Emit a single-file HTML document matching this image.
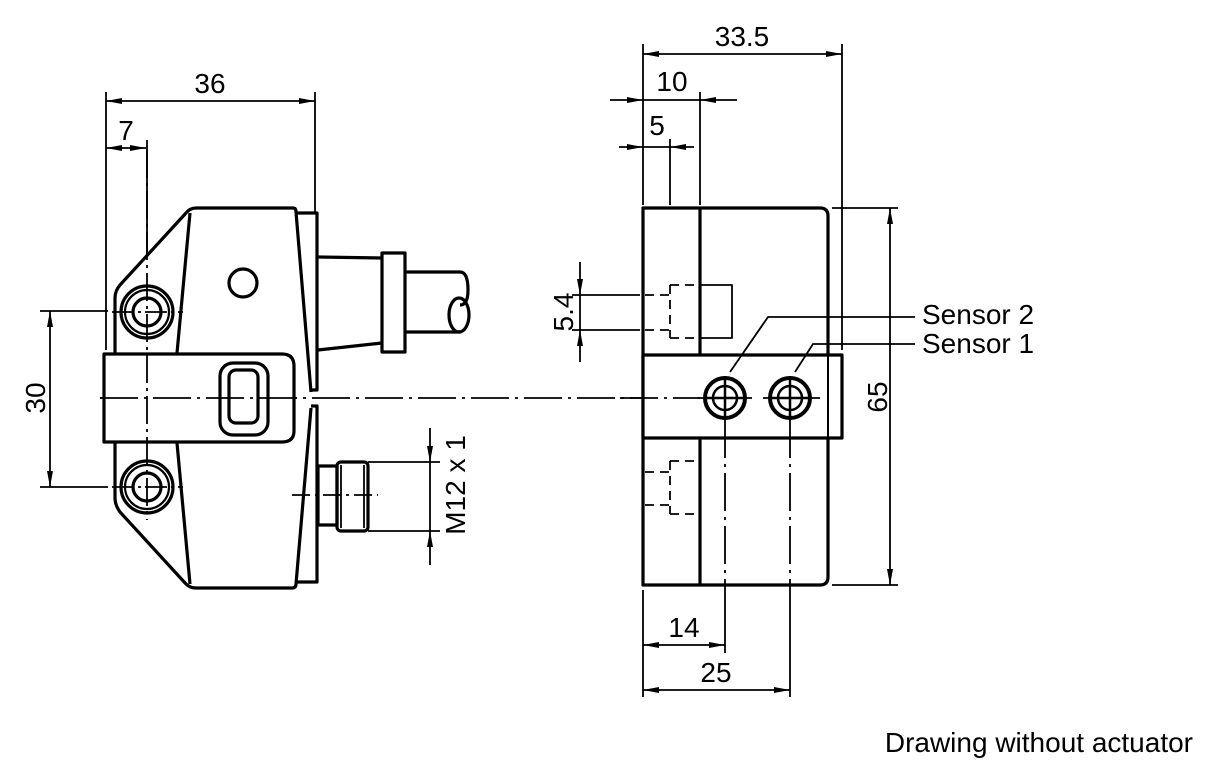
<!DOCTYPE html>
<html><head><meta charset="utf-8"><style>
html,body{margin:0;padding:0;background:#fff;}
svg{display:block;}
text{font-family:"Liberation Sans",Arial,sans-serif;font-size:28px;fill:#000;}
</style></head><body>
<svg width="1228" height="780" viewBox="0 0 1228 780" xmlns="http://www.w3.org/2000/svg">
<defs>
<marker id="a" viewBox="0 0 16 6" refX="16" refY="3" markerWidth="16" markerHeight="6" markerUnits="userSpaceOnUse" orient="auto-start-reverse"><path d="M0,0 L16,3 L0,6 z" fill="#000"/></marker>
</defs>
<g fill="none" stroke="#000">
<!-- ===== LEFT VIEW ===== -->
<g stroke-width="1.8">
<line x1="106" y1="92" x2="106" y2="350"/>
<line x1="315" y1="92" x2="315" y2="212"/>
<line x1="106" y1="101" x2="315" y2="101" marker-start="url(#a)" marker-end="url(#a)"/>
<line x1="106" y1="148" x2="146" y2="148" marker-start="url(#a)" marker-end="url(#a)"/>
<line x1="147" y1="140" x2="147" y2="255"/>
<line x1="40" y1="311" x2="108" y2="311"/>
<line x1="40" y1="487" x2="108" y2="487"/>
<line x1="50" y1="311" x2="50" y2="487" marker-start="url(#a)" marker-end="url(#a)"/>
<line x1="100" y1="398" x2="700" y2="398" stroke-dasharray="38,6,3,6"/>
<line x1="368" y1="462" x2="440" y2="462"/>
<line x1="368" y1="531" x2="440" y2="531"/>
<line x1="430" y1="428" x2="430" y2="462" marker-end="url(#a)"/>
<line x1="430" y1="565" x2="430" y2="531" marker-end="url(#a)"/>
<line x1="430" y1="462" x2="430" y2="531"/>
<line x1="292" y1="495" x2="378" y2="495" stroke-dasharray="18,5,3,5"/>
<line x1="112" y1="312" x2="183" y2="312" stroke-dasharray="22,4,3,4"/>
<line x1="112" y1="487" x2="183" y2="487" stroke-dasharray="22,4,3,4"/>
</g>
<g stroke-width="3.2" stroke-linejoin="round">
<path d="M196,208 L293,208 Q296,208 296,212 L311,392"/>
<path d="M196,208 Q190,208 186,213 L120,285 Q115,291 115,298 L115,498 Q115,505 120,512 L186,584 Q190,588 196,588 L292,588 Q296,588 296,584 L311,408"/>
<line x1="190" y1="213" x2="177" y2="353"/>
<line x1="177" y1="443" x2="190" y2="584"/>
<path d="M296,213 L317,213 L317,390 L311,390"/>
<path d="M311,406 L317,406 L317,582 L296,582"/>
<path d="M104,354 L282,354 Q294,354 294,366 L294,431 Q294,442 282,442 L104,442 Z" fill="#fff"/>
<rect x="220" y="363" width="48" height="72" rx="13"/>
<rect x="229" y="370" width="29" height="53" rx="7"/>
<circle cx="147" cy="312" r="26"/>
<circle cx="147" cy="312" r="22" stroke-width="2.2"/>
<circle cx="147" cy="312" r="14"/>
<circle cx="147" cy="487" r="26"/>
<circle cx="147" cy="487" r="22" stroke-width="2.2"/>
<circle cx="147" cy="487" r="14"/>
<circle cx="243" cy="283" r="14"/>
<path d="M318,257 L382,258"/>
<path d="M318,350 L382,343"/>
<rect x="382" y="253" width="23" height="99"/>
<path d="M405,272 L460,272 Q468,272 468,290 Q468,305 460,305"/>
<path d="M405,332 L460,332"/>
<ellipse cx="459" cy="315" rx="10" ry="17"/>
<rect x="318" y="466" width="19" height="59"/>
<rect x="337" y="462" width="31" height="69" rx="4"/>
</g>
<g stroke-width="1.8">
<line x1="341" y1="465" x2="341" y2="528"/>
<line x1="364" y1="465" x2="364" y2="528"/>
<line x1="147" y1="150" x2="147" y2="520" stroke-dasharray="28,5,3,5"/>
<line x1="100" y1="398" x2="300" y2="398" stroke-dasharray="38,6,3,6"/>
</g>

<!-- ===== RIGHT VIEW ===== -->
<g stroke-width="1.8">
<line x1="643" y1="44" x2="643" y2="205"/>
<line x1="842" y1="44" x2="842" y2="350"/>
<line x1="643" y1="54" x2="842" y2="54" marker-start="url(#a)" marker-end="url(#a)"/>
<line x1="700" y1="92" x2="700" y2="205"/>
<line x1="610" y1="100" x2="643" y2="100" marker-end="url(#a)"/>
<line x1="643" y1="100" x2="700" y2="100"/>
<line x1="737" y1="100" x2="700" y2="100" marker-end="url(#a)"/>
<line x1="670" y1="139" x2="670" y2="205"/>
<line x1="619" y1="147" x2="643" y2="147" marker-end="url(#a)"/>
<line x1="643" y1="147" x2="670" y2="147"/>
<line x1="694" y1="147" x2="670" y2="147" marker-end="url(#a)"/>
<line x1="572" y1="295" x2="640" y2="295"/>
<line x1="572" y1="330" x2="640" y2="330"/>
<line x1="580" y1="262" x2="580" y2="295" marker-end="url(#a)"/>
<line x1="580" y1="362" x2="580" y2="330" marker-end="url(#a)"/>
<line x1="580" y1="295" x2="580" y2="330"/>
<line x1="832" y1="208" x2="898" y2="208"/>
<line x1="832" y1="585" x2="898" y2="585"/>
<line x1="890" y1="208" x2="890" y2="585" marker-start="url(#a)" marker-end="url(#a)"/>
<line x1="643" y1="590" x2="643" y2="697"/>
<line x1="725" y1="590" x2="725" y2="653"/>
<line x1="790" y1="590" x2="790" y2="697"/>
<line x1="643" y1="645" x2="725" y2="645" marker-start="url(#a)" marker-end="url(#a)"/>
<line x1="643" y1="690" x2="790" y2="690" marker-start="url(#a)" marker-end="url(#a)"/>
<line x1="725" y1="420" x2="725" y2="590" stroke-dasharray="38,6,3,6"/>
<line x1="790" y1="420" x2="790" y2="590" stroke-dasharray="38,6,3,6"/>
<g stroke-dasharray="9,6">
<polyline points="670,285 700,285"/>
<line x1="670" y1="285" x2="670" y2="338"/>
<line x1="670" y1="338" x2="700" y2="338"/>
<line x1="645" y1="295" x2="670" y2="295"/>
<line x1="645" y1="330" x2="670" y2="330"/>
<line x1="670" y1="461" x2="700" y2="461"/>
<line x1="670" y1="461" x2="670" y2="514"/>
<line x1="670" y1="514" x2="700" y2="514"/>
<line x1="645" y1="472" x2="670" y2="472"/>
<line x1="645" y1="505" x2="670" y2="505"/>
</g>
</g>
<g stroke-width="3.2" stroke-linejoin="round">
<path d="M643,208 L820,208 Q828,208 828,216 L828,577 Q828,585 820,585 L643,585 Z"/>
<line x1="700" y1="208" x2="700" y2="355"/>
<line x1="700" y1="438" x2="700" y2="585"/>
<rect x="643" y="355" width="199" height="83" fill="#fff"/>
<line x1="828" y1="355" x2="828" y2="438" stroke-width="2"/>
<polyline points="700,285 732,285 732,338 700,338" stroke-width="1.8"/>
</g>
<g stroke-width="1.8">
<line x1="620" y1="398" x2="700" y2="398" stroke-dasharray="38,6,3,6"/>
<line x1="725" y1="420" x2="725" y2="438" />
<line x1="790" y1="420" x2="790" y2="438" />
<line x1="698" y1="398" x2="752" y2="398"/>
<line x1="763" y1="398" x2="820" y2="398"/>
<polyline points="730,372 768,317 915,317"/>
<polyline points="795,372 813,344 915,344"/>
</g>
<g stroke-width="3.2">
<circle cx="725" cy="398" r="20" stroke-width="4"/>
<circle cx="725" cy="398" r="12" stroke-width="2.5"/>
<circle cx="790" cy="398" r="20" stroke-width="4"/>
<circle cx="790" cy="398" r="12" stroke-width="2.5"/>
</g>
<g stroke-width="2.5">
<line x1="704" y1="398" x2="746" y2="398"/>
<line x1="725" y1="376" x2="725" y2="420"/>
<line x1="769" y1="398" x2="811" y2="398"/>
<line x1="790" y1="376" x2="790" y2="420"/>
</g>
</g>
<text x="210" y="93" text-anchor="middle">36</text>
<text x="126" y="140" text-anchor="middle">7</text>
<text transform="translate(45,398) rotate(-90)" text-anchor="middle">30</text>
<text transform="translate(465,485) rotate(-90)" text-anchor="middle">M12 x 1</text>
<text x="742" y="46" text-anchor="middle">33.5</text>
<text x="672" y="91" text-anchor="middle">10</text>
<text x="657" y="135" text-anchor="middle">5</text>
<text transform="translate(573,312) rotate(-90)" text-anchor="middle">5.4</text>
<text transform="translate(887,397) rotate(-90)" text-anchor="middle">65</text>
<text x="684" y="637" text-anchor="middle">14</text>
<text x="716" y="682" text-anchor="middle">25</text>
<text x="922" y="324">Sensor 2</text>
<text x="922" y="353">Sensor 1</text>
<text x="1193" y="752" text-anchor="end">Drawing without actuator</text>
</svg>
</body></html>
